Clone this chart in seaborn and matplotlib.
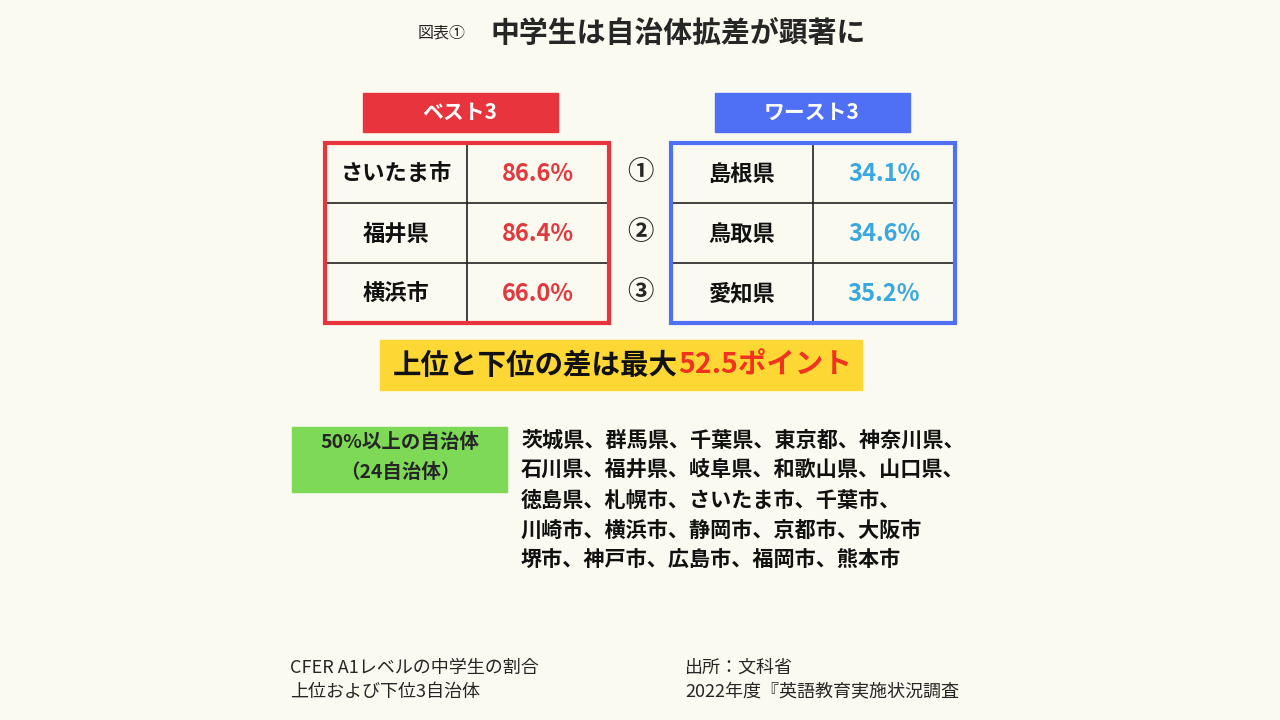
import matplotlib
matplotlib.use("Agg")
import matplotlib.pyplot as plt
from matplotlib.patches import Rectangle
import seaborn as sns

sns.set_theme(style="white", rc={"font.family": "Noto Sans CJK JP"})

best_names = ["さいたま市", "福井県", "横浜市"]
best_values = [86.6, 86.4, 66.0]
worst_names = ["島根県", "鳥取県", "愛知県"]
worst_values = [34.1, 34.6, 35.2]
ranks = ["①", "②", "③"]
gap_points = 52.5
over50_lines = [
    "茨城県、群馬県、千葉県、東京都、神奈川県、",
    "石川県、福井県、岐阜県、和歌山県、山口県、",
    "徳島県、札幌市、さいたま市、千葉市、",
    "川崎市、横浜市、静岡市、京都市、大阪市",
    "堺市、神戸市、広島市、福岡市、熊本市",
]

BG = "#fbfaf0"
RED = "#e8343c"
BLUE = "#4f6ff5"
VRED = "#e0393e"
VBLUE = "#3aa8df"

fig = plt.figure(figsize=(12.8, 7.2), dpi=100, facecolor=BG)
ax = fig.add_axes([0, 0, 1, 1])
ax.set_xlim(0, 1280); ax.set_ylim(720, 0); ax.axis("off")
ax.set_facecolor(BG)

ax.text(418, 33, "図表①", fontsize=11.5, va="center", ha="left")
ax.text(490, 33, "中学生は自治体拡差が顕著に", fontsize=20.8, fontweight="bold", va="center", ha="left")

def header(x, color, label):
    ax.add_patch(Rectangle((x, 93), 195, 39, color=color))
    ax.text(x + 97, 112, label, color="white", fontsize=15, fontweight="bold", ha="center", va="center")

header(363, RED, "ベスト3")
header(715, BLUE, "ワースト3")

def table(x0, border, names, values, vcolor, xdiv):
    ax.add_patch(Rectangle((x0, 143), 284, 180, fill=False, edgecolor=border, lw=3, zorder=3))
    ax.plot([xdiv, xdiv], [143, 323], color="#222222", lw=1.2)
    for i in (1, 2):
        ax.plot([x0, x0 + 284], [143 + 60 * i, 143 + 60 * i], color="#222222", lw=1.2)
    for i, (n, v) in enumerate(zip(names, values)):
        y = 174 + 60 * i
        ax.text((x0 + xdiv) / 2, y, n, fontsize=16, fontweight="bold", ha="center", va="center", color="#111111")
        ax.text((xdiv + x0 + 284) / 2, y, f"{v:.1f}%", fontsize=17, fontweight="bold", ha="center", va="center", color=vcolor)

table(325, RED, best_names, best_values, VRED, 467)
table(671, BLUE, worst_names, worst_values, VBLUE, 813)
for i, r in enumerate(ranks):
    ax.text(640, 173 + 60 * i, r, fontsize=19, fontweight="heavy", ha="center", va="center")

ax.add_patch(Rectangle((380, 340), 482, 50, color="#fdd835"))
ax.text(678, 366, "上位と下位の差は最大", fontsize=20.5, fontweight="bold", ha="right", va="center", color="#111111")
ax.text(678, 366, f"{gap_points}ポイント", fontsize=20.5, fontweight="bold", ha="left", va="center", color="#f0321e")

ax.add_patch(Rectangle((292, 427), 215, 65, color="#7ed957"))
ax.text(400, 443, "50%以上の自治体", fontsize=14, fontweight="bold", ha="center", va="center")
ax.text(400, 472, "（24自治体）", fontsize=14, fontweight="bold", ha="center", va="center")
for i, line in enumerate(over50_lines):
    ax.text(521, 440 + 30 * i, line, fontsize=15.2, fontweight="bold", ha="left", va="center", color="#111111")

ax.text(290, 668, "CFER A1レベルの中学生の割合", fontsize=13, ha="left", va="center")
ax.text(290, 692, "上位および下位3自治体", fontsize=13, ha="left", va="center")
ax.text(685, 668, "出所：文科省", fontsize=13, ha="left", va="center")
ax.text(685, 692, "2022年度『英語教育実施状況調査", fontsize=13, ha="left", va="center")

fig.savefig("out.png", dpi=100, facecolor=BG)
